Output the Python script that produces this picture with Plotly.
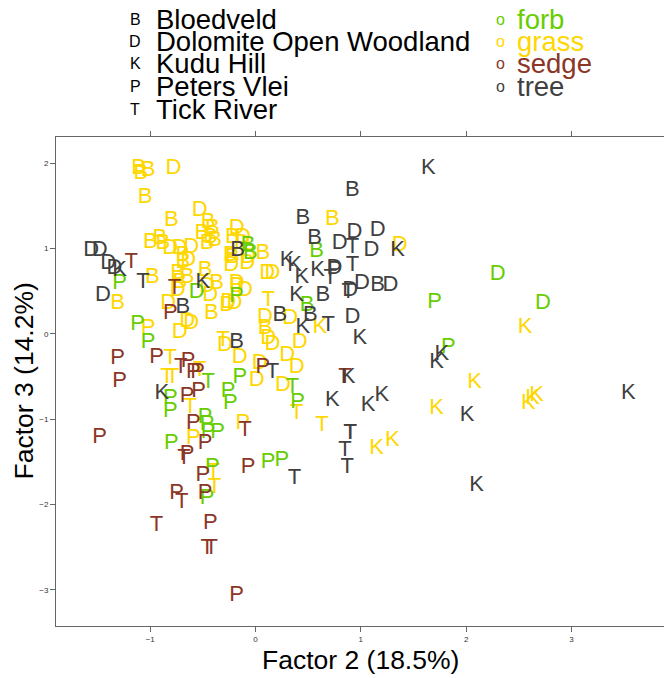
import plotly.graph_objects as go

# ---------------- data (Factor 2, Factor 3 scores) ----------------
site_names = ["Bloedveld", "Dolomite Open Woodland", "Kudu Hill", "Peters Vlei", "Tick River"]
site_codes = ["B", "D", "K", "P", "T"]
type_names = ["forb", "grass", "sedge", "tree"]
type_colors = ["#66CD00", "#FFD700", "#8B3626", "#404040"]

grass_site = ["B", "B", "B", "D", "B", "B", "D", "B", "B", "B",
              "D", "B", "D", "B", "B", "B", "D", "D", "D", "B",
              "B", "D", "B", "B", "B", "B", "D", "D", "B", "D",
              "B", "D", "D", "D", "B", "B", "B", "D", "B", "B",
              "D", "B", "D", "D", "D", "B", "D", "D", "T", "B",
              "B", "D", "D", "D", "D", "D", "P", "T", "D", "D",
              "D", "B", "D", "D", "D", "D", "D", "D", "D", "D",
              "D", "T", "T", "T", "T", "T", "T", "P", "P", "T",
              "T", "K", "D", "B", "K", "K", "K", "K", "K", "K",
              "K", "K", "T"]
grass_x = [-1.11, -1.09, -1.02, -0.78, -1.05, -0.80, -0.53, -0.45, -0.41, -0.43,
           -0.18, -0.22, -0.12, -1.00, -0.91, -0.88, -0.81, -0.72, -0.61, -0.69,
           -0.69, -0.64, -0.51, -0.39, -0.46, -0.24, -0.23, -0.08, 0.07, -0.13,
           -0.22, -0.07, 0.11, 0.16, -0.98, -0.74, -0.72, -0.74, -0.65, -0.48,
           -0.46, -0.37, -0.43, -0.18, -0.10, -0.18, -0.26, -0.20, 0.12, -0.42,
           -1.31, -0.83, -0.65, -0.61, -0.72, -0.27, -1.02, -0.31, -0.29, -0.15,
           0.09, 0.09, 0.12, 0.16, 0.33, 0.42, 0.30, 0.39, 0.04, 0.01,
           0.26, -0.81, -0.53, -0.84, -0.79, -0.62, 0.39, -0.12, -0.59, 0.63,
           -0.39, 0.61, 1.37, 0.73, 2.56, 2.08, 1.72, 2.59, 2.63, 2.67,
           1.15, 1.30, -0.40]
grass_y = [1.94, 1.88, 1.92, 1.94, 1.60, 1.33, 1.45, 1.30, 1.24, 1.13,
           1.24, 1.13, 1.13, 1.07, 1.12, 1.06, 1.00, 1.00, 1.01, 0.92,
           0.84, 0.86, 1.18, 1.10, 1.06, 0.92, 0.80, 0.83, 0.94, 1.06,
           0.90, 0.90, 0.71, 0.71, 0.66, 0.71, 0.60, 0.51, 0.66, 0.74,
           0.55, 0.59, 0.45, 0.59, 0.51, 0.55, 0.37, 0.36, 0.39, 0.24,
           0.35, 0.36, 0.14, 0.12, 0.01, 0.33, 0.06, -0.08, -0.14, -0.28,
           0.19, 0.06, -0.05, -0.12, 0.18, -0.10, -0.25, -0.39, -0.35, -0.55,
           -0.60, -0.29, -0.43, -0.51, -0.51, -0.86, -0.93, -1.05, -1.23, -1.07,
           -1.80, 0.08, 1.04, 1.34, 0.08, -0.57, -0.87, -0.82, -0.76, -0.72,
           -1.34, -1.25, -1.62]

forb_site = ["P", "D", "B", "B", "P", "B", "B", "P", "P", "T",
             "P", "P", "P", "P", "P", "T", "P", "P", "P", "P",
             "P", "P", "P", "P", "P", "P", "P", "D", "D", "P"]
forb_x = [-1.29, -0.56, -0.07, -0.05, -0.18, 0.58, 0.49, -1.12, -1.02, -0.45,
          -0.15, -0.26, -0.24, -0.81, -0.81, 0.35, 0.40, -0.48, -0.46, -0.45,
          -0.36, -0.80, -0.41, -0.46, 0.12, 0.25, 1.70, 2.30, 2.73, 1.83]
forb_y = [0.59, 0.49, 1.04, 0.94, 0.44, 0.96, 0.33, 0.11, -0.10, -0.57,
          -0.51, -0.67, -0.82, -0.76, -0.91, -0.63, -0.80, -0.98, -1.06, -1.16,
          -1.16, -1.28, -1.57, -1.93, -1.51, -1.48, 0.37, 0.69, 0.36, -0.16]

sedge_site = ["T", "T", "P", "P", "P", "P", "T", "P", "P", "P",
              "P", "P", "P", "T", "P", "P", "T", "P", "P", "T",
              "P", "P", "P", "T", "P", "P", "T", "T", "T", "P",
              "T"]
sedge_x = [-1.18, -0.77, -0.81, -1.31, -0.94, -1.29, -0.71, -0.64, -0.59, -0.55,
           -0.65, -0.54, 0.07, 0.85, -0.59, -0.48, -0.10, -1.48, -0.65, -0.68,
           -0.50, -0.07, -0.75, -0.70, -0.48, -0.43, -0.94, -0.46, -0.42, -0.18,
           0.90]
sedge_y = [0.84, 0.53, 0.24, -0.29, -0.28, -0.56, -0.40, -0.32, -0.45, -0.45,
           -0.74, -0.67, -0.40, -0.51, -1.05, -1.28, -1.13, -1.21, -1.42, -1.46,
           -1.66, -1.57, -1.87, -1.98, -1.87, -2.22, -2.25, -2.52, -2.52, -3.07,
           -1.17]

tree_site = ["B", "B", "B", "B", "B", "B", "B", "B", "B", "B",
             "D", "D", "D", "D", "D", "D", "D", "D", "D", "D",
             "D", "D", "D", "D",
             "K", "K", "K", "K", "K", "K", "K", "K", "K", "K",
             "K", "K", "K", "K", "K", "K", "K", "K", "K", "K",
             "K", "P",
             "T", "T", "T", "T", "T", "T", "T", "T", "T", "T", "T"]
tree_x = [0.92, 0.45, 0.56, -0.17, -0.69, -0.18, 0.23, 0.52, 0.64, 1.16,
          -1.56, -1.48, -1.40, -1.34, -1.45, 0.80, 0.94, 1.16, 1.10, 0.75,
          0.90, 1.01, 1.28, 0.92,
          -1.29, -0.50, -0.89, 0.30, 0.37, 0.44, 0.59, 0.39, 0.45, 1.35,
          1.64, 0.99, 1.72, 1.77, 0.88, 0.73, 1.07, 1.20, 2.01, 3.54,
          2.10, 0.75,
          -1.07, 0.92, 0.92, 0.88, 0.69, 0.16, 0.90, 0.85, 0.87, 0.37, 0.71]
tree_y = [1.68, 1.35, 1.12, 0.98, 0.31, -0.10, 0.22, 0.22, 0.45, 0.57,
          0.98, 0.98, 0.82, 0.77, 0.45, 1.06, 1.19, 1.21, 0.98, 0.77,
          0.51, 0.59, 0.57, 0.19,
          0.74, 0.60, -0.70, 0.86, 0.80, 0.66, 0.74, 0.45, 0.08, 0.98,
          1.94, -0.05, -0.33, -0.24, -0.51, -0.78, -0.84, -0.72, -0.96, -0.70,
          -1.78, 0.74,
          0.60, 1.01, 0.80, 0.49, 0.10, -0.45, -1.17, -1.37, -1.57, -1.69, 0.65]

x_title = "Factor 2 (18.5%)"
y_title = "Factor 3 (14.2%)"
x_ticks = [-1, 0, 1, 2, 3]
y_ticks = [-3, -2, -1, 0, 1, 2]

# ---------------- layout constants ----------------
FONT = "Liberation Sans, Arial, Helvetica, sans-serif"
FIG_W, FIG_H = 664, 678
L, R, T, B = 56, 0, 137, 52
PW, PH = FIG_W - L - R, FIG_H - T - B
X0, XPX = -1.895, 105.3   # left data value, px per unit
Y0, YPX = -3.425, 85.3    # bottom data value, px per unit


def pxx(p):
    return (p - L) / PW


def pxy(p):
    return (FIG_H - B - p) / PH


fig = go.Figure()
groups = {
    "grass": (grass_site, grass_x, grass_y),
    "forb": (forb_site, forb_x, forb_y),
    "sedge": (sedge_site, sedge_x, sedge_y),
    "tree": (tree_site, tree_x, tree_y),
}
for name in ["grass", "forb", "sedge", "tree"]:
    s, xs, ys = groups[name]
    col = type_colors[type_names.index(name)]
    fig.add_trace(go.Scatter(
        x=xs, y=ys, mode="text", text=s, textposition="middle center",
        textfont=dict(family=FONT, size=22, color=col),
        hoverinfo="skip", showlegend=False, cliponaxis=False))

ann = []
# legend column 1 (sites)
for i, (c, n) in enumerate(zip(site_codes, site_names)):
    yy = pxy(19 + 22.5 * i)
    ann.append(dict(x=pxx(135), y=yy, xref="paper", yref="paper", text=c,
                    showarrow=False, xanchor="center", yanchor="middle",
                    font=dict(family=FONT, size=16, color="#000000")))
    ann.append(dict(x=pxx(154), y=yy, xref="paper", yref="paper", text=n,
                    showarrow=False, xanchor="left", yanchor="middle",
                    font=dict(family=FONT, size=27.5, color="#000000")))
# legend column 2 (functional types)
for i, (n, col) in enumerate(zip(type_names, type_colors)):
    yy = pxy(19 + 22.5 * i)
    ann.append(dict(x=pxx(500), y=yy, xref="paper", yref="paper", text="o",
                    showarrow=False, xanchor="center", yanchor="middle",
                    font=dict(family=FONT, size=16, color=col)))
    ann.append(dict(x=pxx(515), y=yy, xref="paper", yref="paper", text=n,
                    showarrow=False, xanchor="left", yanchor="middle",
                    font=dict(family=FONT, size=27.5, color=col)))
# axis titles
ann.append(dict(x=0.5, y=pxy(660), xref="paper", yref="paper", text=x_title,
                showarrow=False, xanchor="center", yanchor="middle",
                font=dict(family=FONT, size=26.5, color="#000000")))
ann.append(dict(x=pxx(23), y=0.5, xref="paper", yref="paper", text=y_title,
                showarrow=False, xanchor="center", yanchor="middle", textangle=-90,
                font=dict(family=FONT, size=26.5, color="#000000")))

axis_common = dict(showgrid=False, zeroline=False, showline=True, linecolor="#666666",
                   linewidth=1, ticks="outside", ticklen=5, tickcolor="#666666",
                   tickfont=dict(family=FONT, size=8, color="#333333"))
fig.update_layout(
    width=FIG_W, height=FIG_H, autosize=False,
    margin=dict(l=L, r=R, t=T, b=B, pad=0),
    paper_bgcolor="white", plot_bgcolor="white",
    xaxis=dict(range=[X0, X0 + PW / XPX], tickvals=x_ticks, mirror="ticks", **axis_common),
    yaxis=dict(range=[Y0, Y0 + PH / YPX], tickvals=y_ticks, mirror=False, **axis_common),
    annotations=ann,
)
fig.write_html("out.html")
